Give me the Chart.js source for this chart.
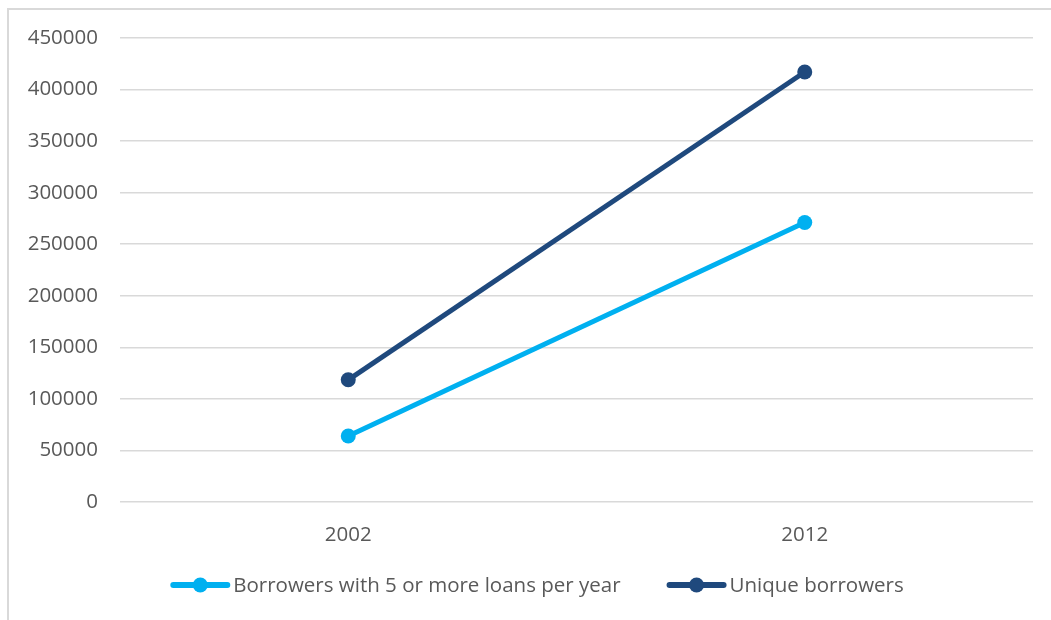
<!DOCTYPE html>
<html>
<head>
<meta charset="utf-8">
<script src="https://cdn.jsdelivr.net/npm/chart.js@4.4.1/dist/chart.umd.min.js"></script>
<style>
  html, body { margin: 0; padding: 0; background: #fff; overflow: hidden; }
  #wrap { position: relative; width: 1051px; height: 620px; }
  #frame { position: absolute; left: 7px; top: 8px; width: 1100px; height: 700px; border: 2px solid #d9d9d9; box-sizing: border-box; }
  canvas { position: absolute; left: 0; top: 0; }
</style>
</head>
<body>
<div id="wrap">
  <div id="frame"></div>
  <canvas id="chart" width="1051" height="620"></canvas>
</div>
<script>
const years = ['2002', '2012'];
const frequentBorrowers = [64000, 271000];
const uniqueBorrowers = [118500, 417000];
const seriesNames = ['Borrowers with 5 or more loans per year', 'Unique borrowers'];
const seriesColors = ['#00b0f0', '#1f497d'];

const FONT = '"Open Sans", sans-serif';
const FONT_SIZE = 20.5;
const TEXT = '#595959';

// legend drawn by hand: line + dot + label, like the Excel one
const lineLegend = {
  id: 'lineLegend',
  afterDraw(chart) {
    const ctx = chart.ctx;
    const y = 585;
    const markW = 60;
    const gap = 46;
    ctx.save();
    ctx.font = FONT_SIZE + 'px ' + FONT;
    const items = chart.data.datasets.map(ds => ({
      ds: ds,
      w: markW + 3 + ctx.measureText(ds.label).width
    }));
    let total = items.reduce((s, it) => s + it.w, 0) + gap * (items.length - 1);
    let x = 537 - total / 2;
    items.forEach(it => {
      ctx.strokeStyle = it.ds.borderColor;
      ctx.lineWidth = 6;
      ctx.lineCap = 'round';
      ctx.beginPath();
      ctx.moveTo(x + 3, y);
      ctx.lineTo(x + markW - 3, y);
      ctx.stroke();
      ctx.fillStyle = it.ds.borderColor;
      ctx.beginPath();
      ctx.arc(x + markW / 2, y, 7.5, 0, Math.PI * 2);
      ctx.fill();
      ctx.fillStyle = TEXT;
      ctx.textBaseline = 'middle';
      ctx.fillText(it.ds.label, x + markW + 3, y + 1);
      x += it.w + gap;
    });
    ctx.restore();
  }
};

new Chart(document.getElementById('chart'), {
  type: 'line',
  data: {
    labels: years,
    datasets: [{
      label: seriesNames[0],
      data: frequentBorrowers,
      borderColor: seriesColors[0],
      backgroundColor: seriesColors[0],
      borderWidth: 5,
      pointRadius: 7.5,
      pointBorderWidth: 0,
      fill: false
    }, {
      label: seriesNames[1],
      data: uniqueBorrowers,
      borderColor: seriesColors[1],
      backgroundColor: seriesColors[1],
      borderWidth: 5,
      pointRadius: 7.5,
      pointBorderWidth: 0,
      fill: false
    }]
  },
  options: {
    responsive: false,
    animation: false,
    layout: {
      padding: { left: 0, right: 18, top: 38, bottom: 58 }
    },
    plugins: {
      legend: { display: false },
      tooltip: { enabled: false }
    },
    scales: {
      x: {
        offset: true,
        grid: { display: false },
        border: { display: false },
        ticks: { color: TEXT, font: { family: FONT, size: FONT_SIZE }, padding: 13 },
        afterFit(scale) { scale.height = 60; }
      },
      y: {
        min: 0,
        max: 450000,
        grid: { color: '#d9d9d9', lineWidth: 1.5, drawTicks: false },
        border: { display: false },
        ticks: {
          stepSize: 50000,
          color: TEXT,
          font: { family: FONT, size: FONT_SIZE },
          padding: 22,
          callback: value => String(value)
        },
        afterFit(scale) { scale.width = 120; }
      }
    }
  },
  plugins: [lineLegend]
});
</script>
</body>
</html>
